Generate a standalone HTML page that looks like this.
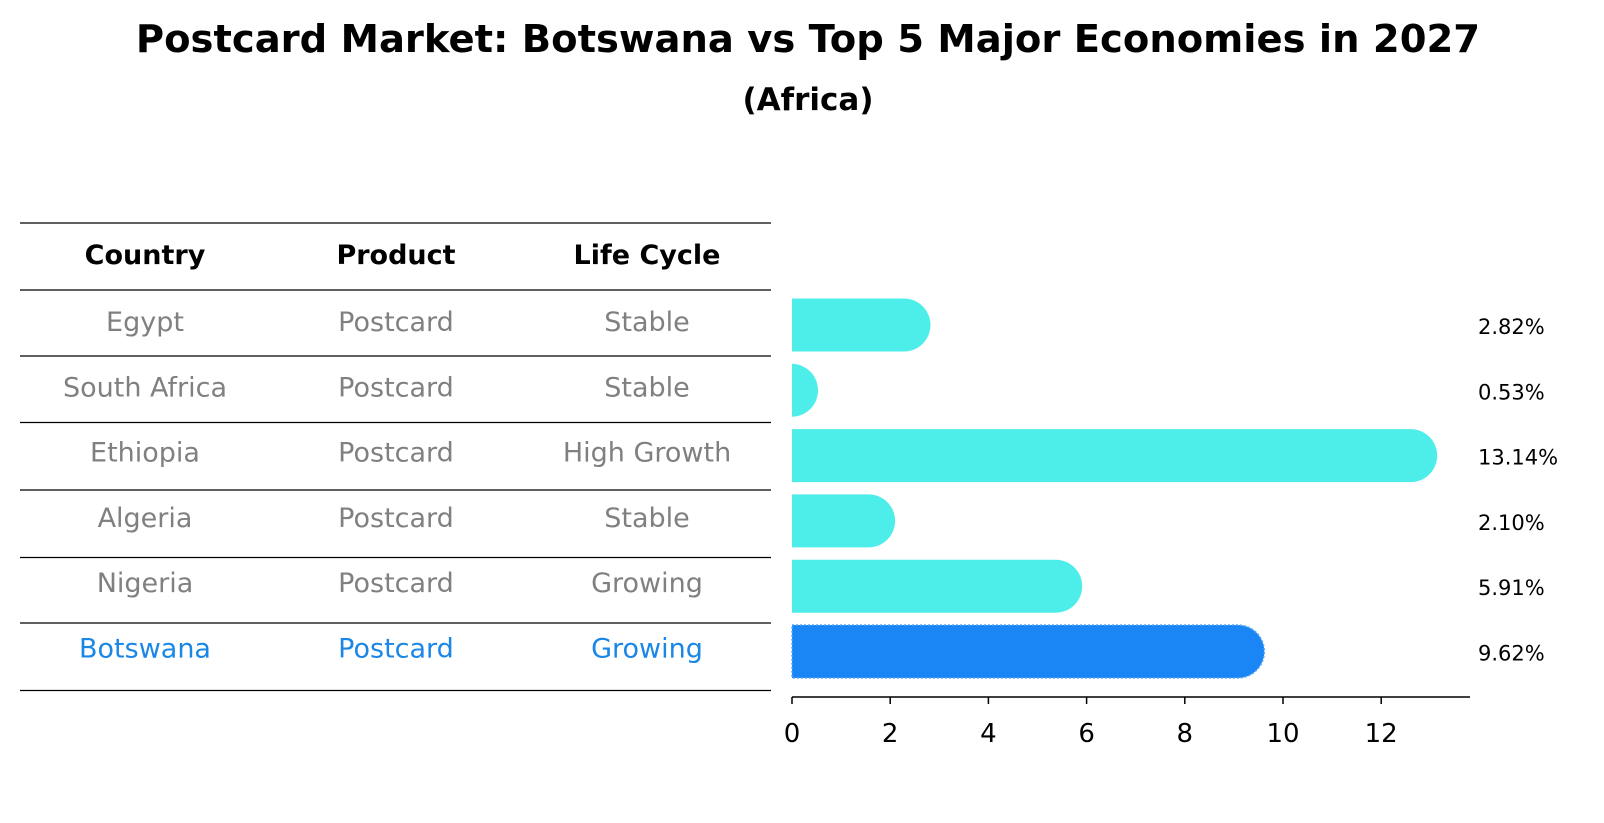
<!DOCTYPE html>
<html><head><meta charset="utf-8"><style>
html,body{margin:0;padding:0;background:#fff;}
svg{display:block;font-family:"DejaVu Sans","Liberation Sans",sans-serif;}
</style></head><body>
<svg id="chart" width="1604" height="823" viewBox="0 0 1604 823" xmlns="http://www.w3.org/2000/svg">
<text x="808" y="52" text-anchor="middle" font-size="38.5" font-weight="bold">Postcard Market: Botswana vs Top 5 Major Economies in 2027</text>
<text x="808" y="110" text-anchor="middle" font-size="31" font-weight="bold">(Africa)</text>
<g id="table"></g>
<g id="bars"></g>
<g id="axis"></g>
</svg>
<script>
const countries=["Egypt","South Africa","Ethiopia","Algeria","Nigeria","Botswana"];
const products=["Postcard","Postcard","Postcard","Postcard","Postcard","Postcard"];
const lifecycles=["Stable","Stable","High Growth","Stable","Growing","Growing"];
const values=[2.82,0.53,13.14,2.10,5.91,9.62];
const ticks=[0,2,4,6,8,10,12];
const NS="http://www.w3.org/2000/svg";
function mk(t,a,p){const e=document.createElementNS(NS,t);for(const k in a)e.setAttribute(k,a[k]);p.appendChild(e);return e;}
const x0=792,ppu=49.1;
const xs=v=>x0+v*ppu;
const rowY=i=>325+i*65.3;
const barH=53;
const tbl=document.getElementById('table');
const lineYs=[223,290,356,422.5,490,557.5,623,690.5];
lineYs.forEach((y,i)=>{const l=mk('line',{x1:20,x2:771,y1:y,y2:y,stroke:'#000','stroke-width':1.2},tbl);

});
const colX=[145,396,647];
["Country","Product","Life Cycle"].forEach((h,j)=>{const t=mk('text',{x:colX[j],y:264,'text-anchor':'middle','font-size':27,'font-weight':'bold'},tbl);t.textContent=h;

});
countries.forEach((c,i)=>{
 const col=c==="Botswana"?"#1a87e6":"#808080";
 [c,products[i],lifecycles[i]].forEach((v,j)=>{
  const t=mk('text',{x:colX[j],y:rowY(i)+6,'text-anchor':'middle','font-size':27,fill:col},tbl);t.textContent=v;
  
  
 });
});
const bg=document.getElementById('bars');
values.forEach((v,i)=>{
 const isB=countries[i]==="Botswana";
 const col=isB?"#1a85f5":"#4deeea";
 const cy=rowY(i),r=barH/2,xe=xs(v)-r;
 const p=mk('path',{d:`M${x0},${cy-r} H${xe} A${r},${r} 0 0 1 ${xe},${cy+r} H${x0} Z`,fill:col},bg);
 if(isB){p.setAttribute('stroke','#5aa8f8');p.setAttribute('stroke-width','1.5');p.setAttribute('stroke-dasharray','2,2');}
 
 
 const t=mk('text',{x:1478,y:cy+9,'font-size':21},bg);t.textContent=v.toFixed(2)+'%';
 
 
});
const ax=document.getElementById('axis');
const al=mk('line',{x1:x0,x2:1470,y1:697,y2:697,stroke:'#000','stroke-width':1.5},ax);


ticks.forEach(tk=>{
 const l=mk('line',{x1:xs(tk),x2:xs(tk),y1:697,y2:704,stroke:'#000','stroke-width':1.5},ax);
 
 
 const t=mk('text',{x:xs(tk),y:742,'text-anchor':'middle','font-size':26},ax);t.textContent=tk;
 
 
});
</script>
</body></html>
